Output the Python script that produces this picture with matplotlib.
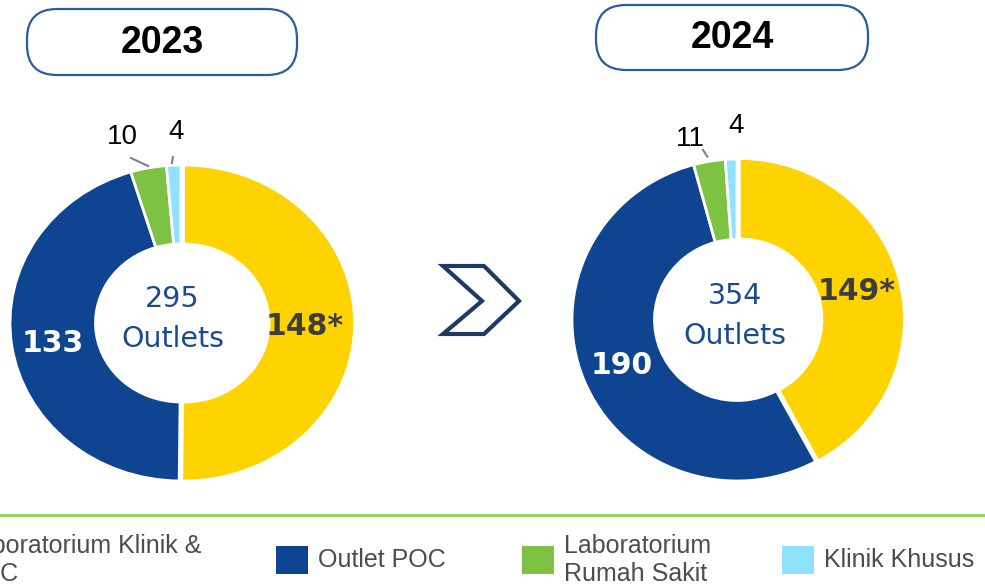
import numpy as np
import matplotlib
matplotlib.use("Agg")
import matplotlib.pyplot as plt
from matplotlib.patches import FancyBboxPatch, Polygon, Rectangle

# ---------------------------------------------------------------------------
# datos
# ---------------------------------------------------------------------------
years = ["2023", "2024"]
categories = ["Laboratorium Klinik &\nPOC", "Outlet POC",
              "Laboratorium\nRumah Sakit", "Klinik Khusus"]
values_2023 = [148, 133, 10, 4]
values_2024 = [149, 190, 11, 4]
label_2023 = ["148*", "133", "10", "4"]
label_2024 = ["149*", "190", "11", "4"]
totals = [295, 354]

colors = ["#FFD300", "#0F4590", "#7DC242", "#8FE3FF"]
label_colors = ["#3d3d3d", "white", "black", "black"]
label_weight = ["bold", "bold", "normal", "normal"]

W, H = 985, 588
fig = plt.figure(figsize=(W / 100, H / 100), dpi=100)

# capa de fondo en coordenadas de pixel
ov = fig.add_axes([0, 0, 1, 1])
ov.set_xlim(0, W)
ov.set_ylim(H, 0)
ov.axis("off")


def donut(cx, cy, rx, ry, vals, labels, lab_pos, lead, center_pos, total):
    ax = fig.add_axes([(cx - rx) / W, (H - cy - ry) / H, 2 * rx / W, 2 * ry / H])
    wedges, _ = ax.pie(vals, colors=colors, startangle=90, counterclock=False,
                       explode=[0.015, 0, 0, 0],
                       wedgeprops=dict(width=0.5, edgecolor="white", linewidth=2))
    for w in wedges:
        w.set_clip_on(False)
    ax.set_aspect("auto")
    ax.set_xlim(-1, 1)
    ax.set_ylim(-1, 1)
    ax.axis("off")
    for i, txt in enumerate(labels):
        x, y = lab_pos[i]
        if label_weight[i] == "bold":
            ax.text(x, y, txt, ha="center", va="center", fontsize=21.5,
                    fontweight="bold", family="DejaVu Sans", color=label_colors[i])
        else:
            ax.text(x, y, txt, ha="center", va="center", fontsize=20,
                    family="Liberation Sans", color=label_colors[i])
    for (x0, y0), (x1, y1) in lead:
        ax.plot([x0, x1], [y0, y1], color="#808080", lw=1.5, clip_on=False)
    ax.text(center_pos[0], center_pos[1] + 0.15, str(total), ha="center", va="center",
            fontsize=20.5, family="DejaVu Sans", color="#1A4A90")
    ax.text(center_pos[0], center_pos[1] - 0.1, "Outlets", ha="center", va="center",
            fontsize=20.5, family="DejaVu Sans", color="#1A4A90")
    return ax


donut(181, 323, 171, 158, values_2023, label_2023,
      [(0.725, -0.025), (-0.75, -0.127), (-0.345, 1.177), (-0.03, 1.21)],
      [((-0.292, 1.044), (-0.193, 0.994)), ((-0.053, 1.013), (-0.047, 1.051))],
      (-0.05, 0.0), totals[0])
donut(737, 320, 165, 161, values_2024, label_2024,
      [(0.727, 0.18), (-0.697, -0.28), (-0.285, 1.124), (-0.006, 1.205)],
      [((-0.206, 1.056), (-0.18, 1.015))],
      (-0.012, 0.0), totals[1])

# cajas de los años
for (x0, y0, x1, y1), yr in zip([(27, 9, 297, 75), (596, 5, 868, 70)], years):
    box = FancyBboxPatch((x0, y0), x1 - x0, y1 - y0,
                         boxstyle="round,pad=0,rounding_size=30",
                         fc="white", ec="#2B5BA0", lw=1.6)
    ov.add_patch(box)
    ov.text((x0 + x1) / 2, (y0 + y1) / 2 + 1, yr, ha="center", va="center",
            fontsize=27, fontweight="bold", family="Liberation Sans", color="black")

# flecha
chev = Polygon([(443, 266), (484, 266), (519, 301), (484, 334), (443, 334), (482, 301)],
               closed=True, fc="white", ec="#1F3864", lw=3, joinstyle="miter")
ov.add_patch(chev)

# línea verde
ov.plot([0, W], [515, 515], color="#92D050", lw=2)

# leyenda
sw_x = [-78, 276, 522, 782]
for i, cat in enumerate(categories):
    ov.add_patch(Rectangle((sw_x[i], 546), 32, 28, fc=colors[i], ec="none"))
    ov.text(sw_x[i] + 42, 560, cat, ha="left", va="center", fontsize=18,
            family="Liberation Sans", color="#4d4d4d", linespacing=1.2)

fig.savefig("out.png", dpi=100)
